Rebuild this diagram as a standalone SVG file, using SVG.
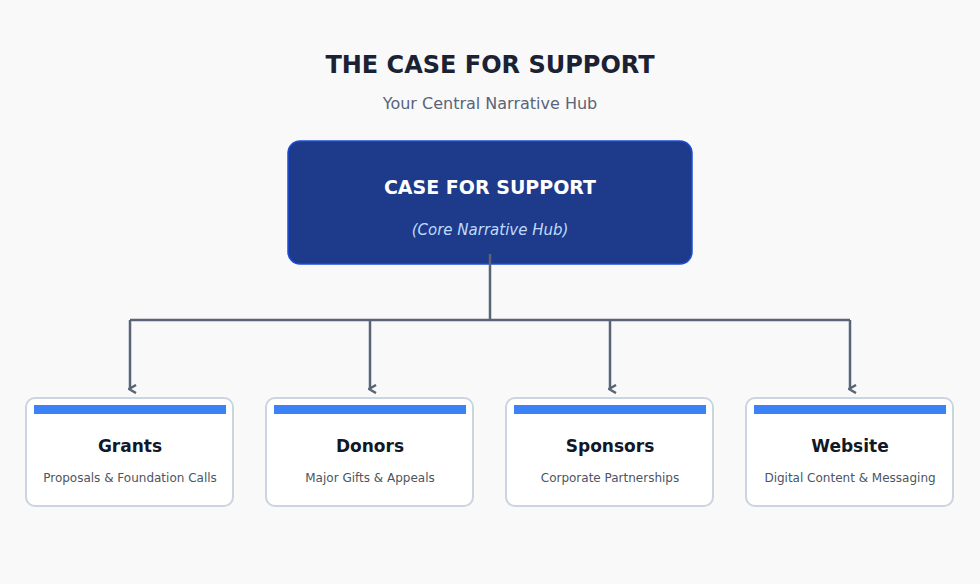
<svg xmlns="http://www.w3.org/2000/svg" width="980" height="584" viewBox="0 0 980 584">
<style>
text{font-family:"DejaVu Sans",sans-serif;text-anchor:middle}
.card{fill:#fff;stroke:#cbd5e1;stroke-width:2}
.bar{fill:#3b82f6}
.t{font-size:17px;font-weight:bold;fill:#111827}
.s{font-size:12px;fill:#4b5563}
.c{fill:none;stroke:#5a6478;stroke-width:2.5}
</style>
<defs><marker id="a" markerWidth="10" markerHeight="10" refX="5" refY="8" orient="auto" markerUnits="userSpaceOnUse"><path d="M1,2 L5,9 L9,2" fill="none" stroke="#5a6478" stroke-width="2.5"/></marker></defs>
<rect width="980" height="584" fill="#f9f9f9"/>
<text x="490" y="73" font-size="24" font-weight="bold" fill="#1a2234">THE CASE FOR SUPPORT</text>
<text x="490" y="109" font-size="16" fill="#5a6478">Your Central Narrative Hub</text>
<g id="hub"><rect x="288" y="141" width="404" height="123" rx="12" fill="#1e3a8a" stroke="#1d4ed8" stroke-width="1.5"/>
<text x="490" y="194" font-size="19" font-weight="bold" fill="#fff">CASE FOR SUPPORT</text>
<text x="490" y="235" font-size="15" font-style="italic" fill="#bfdbfe">(Core Narrative Hub)</text></g>
<g id="connectors">
<path class="c" d="M490,254 V320 M130,320 H850"/>
<path class="c" d="M130,320 V389" marker-end="url(#a)"/>
<path class="c" d="M370,320 V389" marker-end="url(#a)"/>
<path class="c" d="M610,320 V389" marker-end="url(#a)"/>
<path class="c" d="M850,320 V389" marker-end="url(#a)"/>
</g>
<g id="grants"><rect class="card" x="26" y="398" width="207" height="108" rx="9"/><rect class="bar" x="34" y="405" width="192" height="9"/><text class="t" x="130" y="452">Grants</text><text class="s" x="130" y="482">Proposals &amp; Foundation Calls</text></g>
<g id="donors"><rect class="card" x="266" y="398" width="207" height="108" rx="9"/><rect class="bar" x="274" y="405" width="192" height="9"/><text class="t" x="370" y="452">Donors</text><text class="s" x="370" y="482">Major Gifts &amp; Appeals</text></g>
<g id="sponsors"><rect class="card" x="506" y="398" width="207" height="108" rx="9"/><rect class="bar" x="514" y="405" width="192" height="9"/><text class="t" x="610" y="452">Sponsors</text><text class="s" x="610" y="482">Corporate Partnerships</text></g>
<g id="website"><rect class="card" x="746" y="398" width="207" height="108" rx="9"/><rect class="bar" x="754" y="405" width="192" height="9"/><text class="t" x="850" y="452">Website</text><text class="s" x="850" y="482">Digital Content &amp; Messaging</text></g>
</svg>
